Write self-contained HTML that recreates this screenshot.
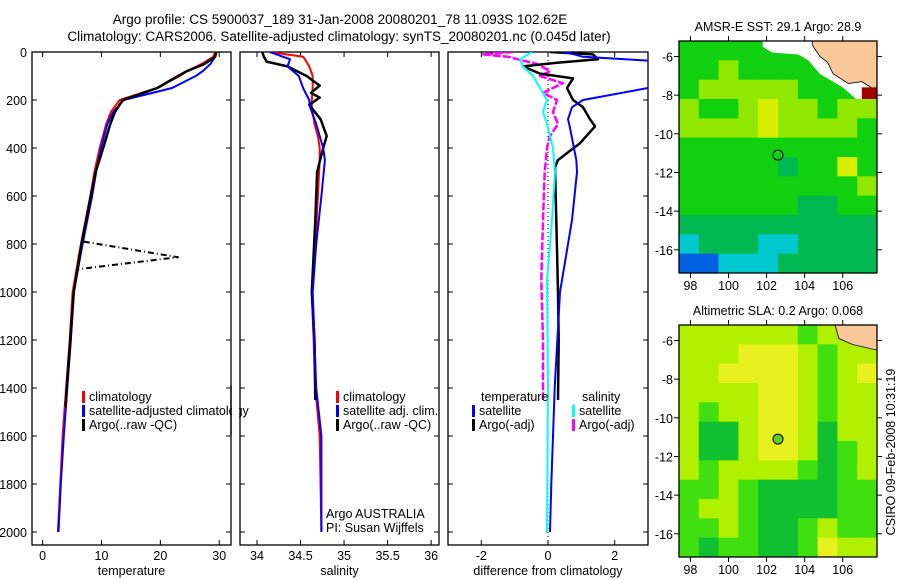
<!DOCTYPE html>
<html><head><meta charset="utf-8">
<style>
html,body{margin:0;padding:0;background:#fff;}
svg{display:block;font-family:"Liberation Sans",Arial,sans-serif;}
</style></head>
<body>
<svg id="fig" width="900" height="580" viewBox="0 0 900 580" xmlns="http://www.w3.org/2000/svg">
<defs>
<clipPath id="c1"><rect x="32" y="52" width="199" height="493"/></clipPath>
<clipPath id="c2"><rect x="240" y="52" width="199" height="493"/></clipPath>
<clipPath id="c3"><rect x="448" y="52" width="200" height="493"/></clipPath>
<clipPath id="cm1"><rect x="679" y="41" width="198" height="232"/></clipPath>
<clipPath id="cm2"><rect x="679" y="325" width="198" height="232"/></clipPath>
</defs>
<text x="340" y="24" font-size="13.5" text-anchor="middle">Argo profile: CS 5900037_189 31-Jan-2008 20080201_78 11.093S 102.62E</text>
<text x="339" y="41" font-size="13.5" text-anchor="middle">Climatology: CARS2006. Satellite-adjusted climatology: synTS_20080201.nc (0.045d later)</text>
<g id="root"></g>
<text transform="translate(895,452) rotate(-90)" font-size="12.5" text-anchor="middle">CSIRO 09-Feb-2008 10:31:19</text>
</svg>
<script>
// ---- profile data ----
const depthT = [0,20,50,80,100,150,200,250,300,400,500,600,800,1000,1200,1400,1600,1800,2000];
const tempClim = [29.3,29.0,27.0,24.5,23.3,19.4,13.1,11.6,10.8,9.7,8.8,8.1,6.5,5.1,4.6,4.0,3.4,3.0,2.6];
const tempSat  = [29.5,29.3,28.5,27.2,26.0,22.0,13.8,12.0,11.0,9.9,9.1,8.4,6.8,5.3,4.8,4.2,3.6,3.1,2.7];
const depthA = [0,20,50,80,100,150,200,250,300,400,500,600,800,1000,1200,1400,1480];
const tempArgo = [29.5,29.3,27.5,24.5,23.0,19.5,13.6,12.3,11.5,10.3,9.0,8.2,6.6,5.3,4.7,4.1,3.9];
const spikeDepth = [790,855,905];
const spikeTemp = [7.0,23.0,6.0];

const depthS = [0,20,30,60,100,150,200,230,300,350,400,450,600,800,1000,1200,1400,1600,2000];
const salClim = [34.15,34.53,34.55,34.60,34.64,34.64,34.63,34.63,34.66,34.70,34.72,34.72,34.70,34.67,34.63,34.65,34.67,34.72,34.74];
const salSat  = [34.15,34.30,34.38,34.35,34.48,34.53,34.60,34.61,34.68,34.72,34.76,34.78,34.74,34.68,34.64,34.66,34.68,34.74,34.74];
const depthSA = [0,20,40,60,100,140,170,190,220,280,350,400,500,700,1000,1200,1450];
const salArgo = [34.06,34.08,34.11,34.35,34.57,34.72,34.62,34.72,34.60,34.73,34.80,34.76,34.69,34.67,34.63,34.66,34.67];

const depthD = [0,10,20,40,60,90,110,150,200,230,280,310,380,450,500,700,1000,1400,1800,2000];
const diffTSat = [0.42,0.8,1.05,3.5,3.5,3.5,3.5,3.0,1.05,0.72,0.6,0.65,0.75,0.85,0.87,0.72,0.36,0.2,0.1,0.06];
const depthDA = [0,10,30,45,60,90,110,150,200,230,280,310,380,450,480,700,1000,1200,1450];
const diffTArgo = [0.06,1.35,1.5,0.27,-0.75,-0.24,0.75,0.57,0.75,1.05,1.26,1.41,0.96,0.3,0.21,0.25,0.3,0.32,0.3];
const depthDS = [0,30,60,100,150,200,250,300,400,500,700,950,1400,2000];
const diffSSat = [-0.48,-0.84,-0.75,-0.45,-0.24,-0.03,-0.15,-0.03,0.15,0.21,0.12,-0.03,0.0,-0.03];
const depthDSA = [0,10,20,50,80,100,130,170,200,250,300,350,400,500,700,950,1200,1450];
const diffSArgo = [-1.05,-1.95,-1.2,-0.33,0.06,-0.24,0.45,-0.15,0.27,0.15,0.3,0.06,-0.03,-0.1,-0.15,-0.2,-0.15,-0.15];

// ---- map data (coarse grids, rows north->south, cols west->east) ----
const sstGrid = [
 [3,3,3,3,3,3,3,3,3,3],
 [3,3,4,3,3,3,3,3,3,3],
 [3,4,4,4,4,4,3,3,3,4],
 [4,3,3,4,5,4,4,3,4,4],
 [4,4,4,4,5,4,4,4,4,3],
 [3,3,3,3,3,3,3,3,3,3],
 [3,3,3,3,3,2,3,3,5,3],
 [3,3,3,3,3,3,3,3,3,4],
 [3,3,3,3,3,3,2,2,3,3],
 [2,2,2,2,2,2,2,2,2,2],
 [1,2,2,2,1,1,2,2,2,2],
 [0,0,1,1,1,2,2,2,2,2]];
const slaGrid = [
 [4,4,4,4,4,4,3,4,4,4],
 [4,4,4,5,5,5,4,3,4,4],
 [4,4,5,5,5,5,4,3,4,5],
 [4,4,4,4,5,5,4,3,4,4],
 [4,3,4,4,5,5,4,3,4,4],
 [4,2,2,4,5,5,4,2,4,4],
 [4,2,2,4,5,5,4,2,3,4],
 [4,3,4,4,4,4,3,2,3,4],
 [3,3,4,3,2,2,2,2,3,3],
 [3,4,4,3,2,2,2,2,3,3],
 [3,3,4,3,2,2,3,4,3,3],
 [3,2,3,3,2,2,3,5,4,4]];
const sstColors = ['#0060e0','#00c8d0','#00b850','#10d010','#90e800','#d8f000'];
const slaColors = ['#0060e0','#00c8d0','#10c030','#40e010','#b0f000','#e8f020'];
const latTicks = [-6,-8,-10,-12,-14,-16];
const lonTicks = [98,100,102,104,106];
const floatLon = 102.6, floatLat = -11.1;

const NS='http://www.w3.org/2000/svg';
const root=document.getElementById('root');
function mk(tag,attrs,parent){const e=document.createElementNS(NS,tag);for(const k in attrs)e.setAttribute(k,attrs[k]);(parent||root).appendChild(e);return e;}
function txt(x,y,s,size,anchor,parent){const t=mk('text',{x:x,y:y,'font-size':size,'text-anchor':anchor||'start'},parent);t.textContent=s;return t;}

const Y0=52, YS=480/2000;
const yD=d=>Y0+d*YS;
const panels=[
 {x0:32,x1:231,vmin:-1.8,vmax:32,clip:'c1',ticks:[0,10,20,30],name:'temperature'},
 {x0:240,x1:439,vmin:33.805,vmax:36.09,clip:'c2',ticks:[34,34.5,35,35.5,36],name:'salinity'},
 {x0:448,x1:648,vmin:-3,vmax:3,clip:'c3',ticks:[-2,0,2],name:'difference from climatology'}];
panels.forEach(p=>{p.sx=v=>p.x0+(v-p.vmin)/(p.vmax-p.vmin)*(p.x1-p.x0);});

function line(p,ds,vs,color,w,dash,nm){
  const pts=ds.map((d,i)=>p.sx(vs[i]).toFixed(1)+','+yD(d).toFixed(1)).join(' ');
  const g=mk('g',{'clip-path':'url(#'+p.clip+')'});
  const el=mk('polyline',{points:pts,fill:'none',stroke:color,'stroke-width':w,'stroke-dasharray':dash||'none','stroke-linejoin':'round'},g);
  
  
}

panels.forEach((p,pi)=>{
  const g=mk('g',{});
  
  
  mk('rect',{x:p.x0,y:52,width:p.x1-p.x0,height:493,fill:'none',stroke:'#000','stroke-width':1.3},g);
  for(let d=0;d<=2000;d+=200){
    mk('line',{x1:p.x0,x2:p.x0+5,y1:yD(d),y2:yD(d),stroke:'#000'},g);
    mk('line',{x1:p.x1,x2:p.x1-5,y1:yD(d),y2:yD(d),stroke:'#000'},g);
    if(pi===0){const t=txt(27,yD(d)+5,String(d),12.5,'end',g);
      
      }
  }
  p.ticks.forEach(v=>{
    const x=p.sx(v);
    mk('line',{x1:x,x2:x,y1:545,y2:540,stroke:'#000'},g);
    mk('line',{x1:x,x2:x,y1:52,y2:57,stroke:'#000'},g);
    const t=txt(x,560,String(v),12.5,'middle',g);
    
    
  });
  const at=txt((p.x0+p.x1)/2,575,p.name,12.5,'middle',g);
  
  
});

const [pT,pS,pD]=panels;
line(pT,depthT,tempClim,'#f00',2,null,'temp-climatology-line');
line(pT,depthT,tempSat,'#00f',2,null,'temp-satellite-line');
line(pT,depthA,tempArgo,'#000',2.5,null,'temp-argo-line');
line(pT,spikeDepth,spikeTemp,'#000',2,'6,3,1,3','temp-argo-spike');

line(pS,depthS,salClim,'#f00',2,null,'sal-climatology-line');
line(pS,depthSA,salArgo,'#000',2.5,null,'sal-argo-line');
line(pS,depthS,salSat,'#00f',2,null,'sal-satellite-line');

mk('line',{x1:pD.sx(0),x2:pD.sx(0),y1:52,y2:545,stroke:'#000','stroke-dasharray':'1,3'});
line(pD,depthDSA,diffSArgo,'#f0f',2.5,'8,2','sal-argo-diff-line');
line(pD,depthDA,diffTArgo,'#000',2.5,null,'temp-argo-diff-line');
line(pD,depthDS,diffSSat,'#0ff',2,null,'sal-satellite-diff-line');
line(pD,depthD,diffTSat,'#00f',2,null,'temp-satellite-diff-line');

function legendEntry(x,y,color,label,nm){
  const g=mk('g',{});
  
  
  if(color) mk('rect',{x:x,y:y-10,width:3,height:12,fill:color},g);
  txt(x+7,y,label,12.5,'start',g);
}
legendEntry(82,401,'#f00','climatology','legend-entry-climatology');
legendEntry(82,415,'#00f','satellite-adjusted climatology','legend-entry-satellite-adjusted');
legendEntry(82,429,'#000','Argo(..raw -QC)','legend-entry-argo');
// cover overflow into salinity panel gap
mk('rect',{x:232,y:385,width:7,height:50,fill:'#fff'});
mk('line',{x1:231,x2:231,y1:385,y2:435,stroke:'#000','stroke-width':1.3});
legendEntry(336,401,'#f00','climatology','legend-entry-sal-climatology');
legendEntry(336,415,'#00f','satellite adj. clim.','legend-entry-sal-satellite');
legendEntry(336,429,'#000','Argo(..raw -QC)','legend-entry-sal-argo');
legendEntry(474,401,null,'temperature','legend-header-temperature');
legendEntry(472,415,'#00f','satellite','legend-entry-temp-satellite');
legendEntry(472,429,'#000','Argo(-adj)','legend-entry-temp-argo');
legendEntry(575,401,null,'salinity','legend-header-salinity');
legendEntry(572,415,'#0ff','satellite','legend-entry-sal-satellite-diff');
legendEntry(572,429,'#f0f','Argo(-adj)','legend-entry-sal-argo-diff');
const a1=txt(326,518,'Argo AUSTRALIA',12.5);


const a2=txt(326,532,'PI: Susan Wijffels',12.5);



// ---- maps ----
function drawMap(top,grid,colors,title,clip,nm,land){
  const L=679,R=877,T=top,B=top+232;
  const lonMin=97.4,lonMax=107.8,latMax=-5.2,latMin=-17.2;
  const lx=lon=>L+(lon-lonMin)/(lonMax-lonMin)*(R-L);
  const ly=lat=>T+(latMax-lat)/(latMax-latMin)*(B-T);
  const g=mk('g',{});
  
  
  const gc=mk('g',{'clip-path':'url(#'+clip+')'},g);
  const rows=grid.length, cols=grid[0].length;
  const cw=(R-L)/cols, ch=(B-T)/rows;
  grid.forEach((row,r)=>row.forEach((v,c)=>{
    mk('rect',{x:L+c*cw,y:T+r*ch,width:cw+0.5,height:ch+0.5,fill:colors[v]},gc);
  }));
  if(land){
    mk('polygon',{points:[[lx(101.8),T],[lx(103.5),T],[lx(103.7),ly(-5.9)],[lx(102.3),ly(-5.8)],[lx(101.8),ly(-5.5)]].join(' '),fill:'#fff'},gc);
    mk('polygon',{points:[[lx(103.3),T],[lx(R),T],[lx(107.8),ly(-8.2)],[lx(106.7),ly(-8.2)],[lx(106),ly(-7.6)],[lx(104.8),ly(-6.9)],[lx(104.2),ly(-6.2)],[lx(103.3),ly(-5.7)]].join(' '),fill:'#fff'},gc);
    mk('polygon',{points:[[lx(104.4),T],[lx(107.8),T],[lx(107.8),ly(-7.8)],[lx(107),ly(-7.3)],[lx(106.3),ly(-7.4)],[lx(105.5),ly(-6.9)],[lx(105.2),ly(-6.3)],[lx(104.8),ly(-6)],[lx(104.4),ly(-5.4)]].join(' '),fill:'#f9c898',stroke:'#000','stroke-width':0.8},gc);
    mk('rect',{x:lx(107),y:ly(-7.6),width:R-lx(107),height:ly(-8.2)-ly(-7.6),fill:'#a00000'},gc);
  } else {
    mk('polygon',{points:[[lx(105.6),T],[lx(107.8),T],[lx(107.8),ly(-6.5)],[lx(106.5),ly(-6.2)],[lx(105.8),ly(-5.9)]].join(' '),fill:'#f9c898',stroke:'#000','stroke-width':0.8},gc);
  }
  mk('circle',{cx:lx(floatLon),cy:ly(floatLat),r:5,fill:land?'none':'#60d020',stroke:'#000','stroke-width':1},g);
  mk('rect',{x:L,y:T,width:R-L,height:B-T,fill:'none',stroke:'#000','stroke-width':1.3},g);
  latTicks.forEach(v=>{
    mk('line',{x1:L,x2:L-5,y1:ly(v),y2:ly(v),stroke:'#000'},g);
    mk('line',{x1:R,x2:R+5,y1:ly(v),y2:ly(v),stroke:'#000'},g);
    const t=txt(673,ly(v)+5,String(v),12.5,'end',g);
    
    
  });
  lonTicks.forEach(v=>{
    mk('line',{x1:lx(v),x2:lx(v),y1:B,y2:B+5,stroke:'#000'},g);
    mk('line',{x1:lx(v),x2:lx(v),y1:T,y2:T-5,stroke:'#000'},g);
    const t=txt(lx(v),B+17,String(v),12.5,'middle',g);
    
    
  });
  const tt=txt(778,T-10,title,12.5,'middle',g);
  
  
}
drawMap(41,sstGrid,sstColors,'AMSR-E SST: 29.1  Argo: 28.9','cm1','sst-map',true);
drawMap(325,slaGrid,slaColors,'Altimetric SLA: 0.2  Argo: 0.068','cm2','sla-map',false);
</script>
</body></html>
